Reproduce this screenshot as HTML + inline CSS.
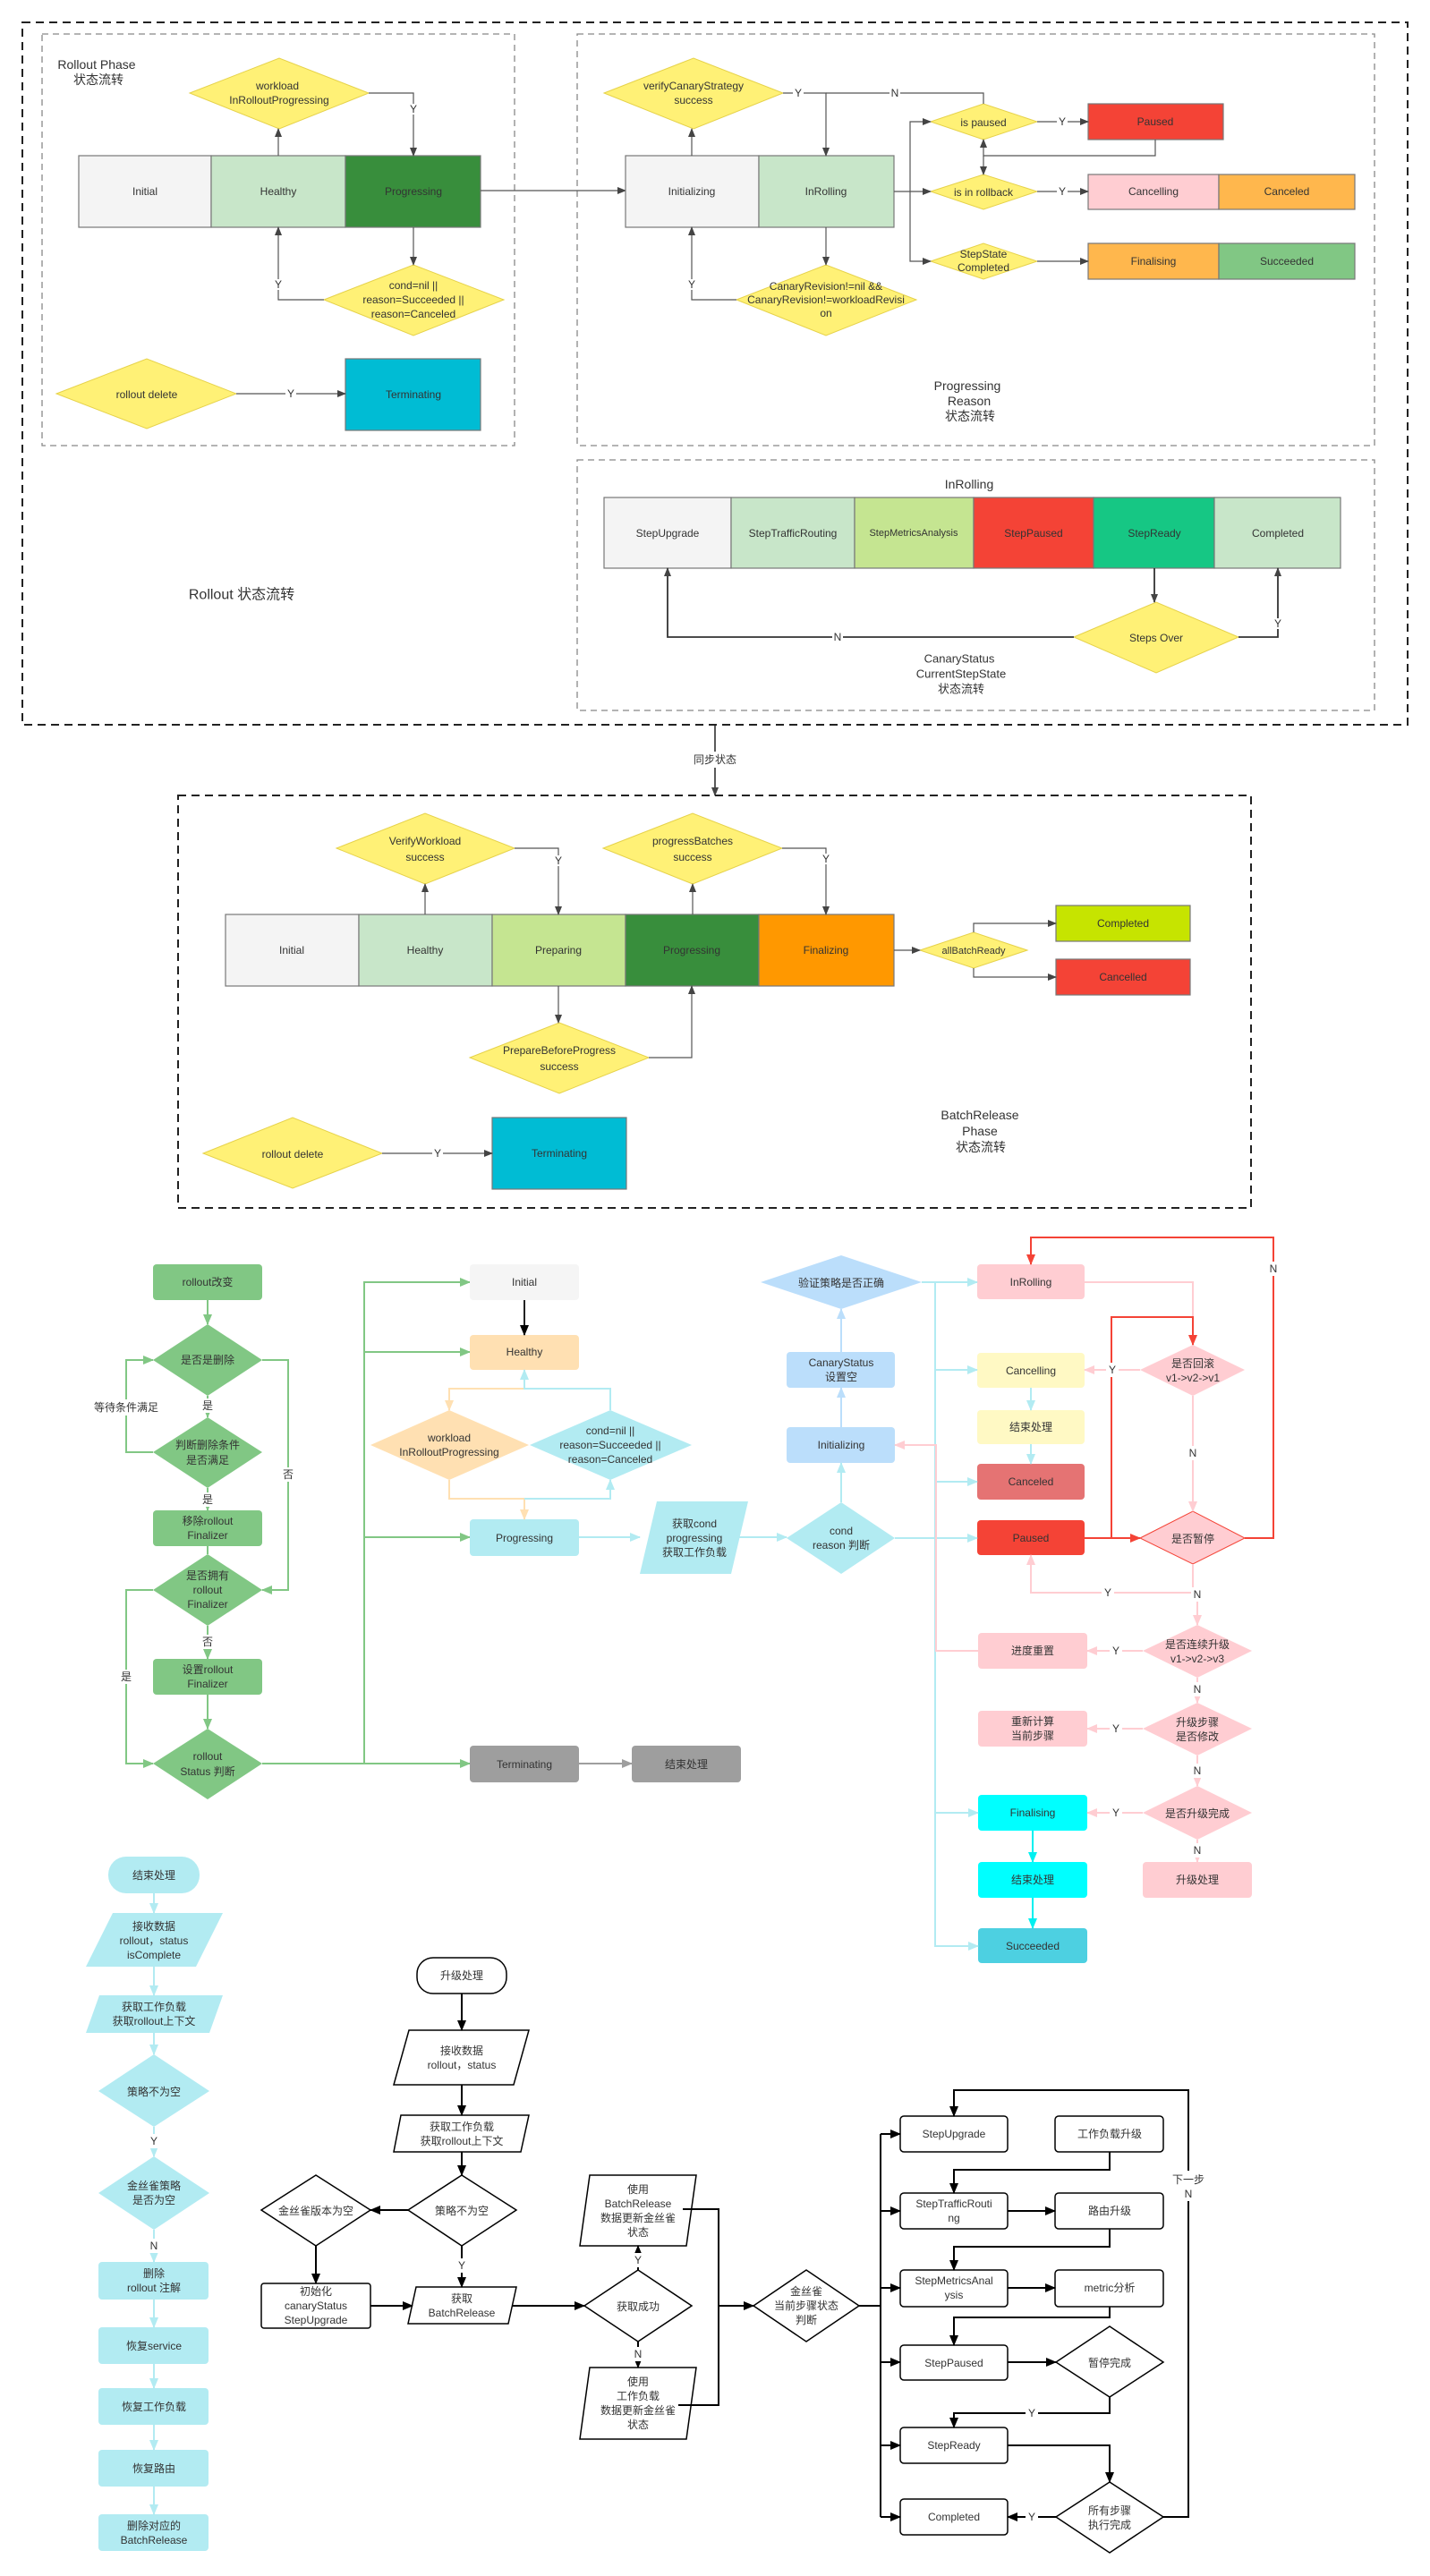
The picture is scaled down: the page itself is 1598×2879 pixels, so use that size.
<!DOCTYPE html>
<html><head><meta charset="utf-8"><style>
html,body{margin:0;padding:0;background:#fff;}
svg{display:block;font-family:"Liberation Sans","Noto Sans CJK SC",sans-serif;}
text{font-size:12px;fill:#333;text-anchor:middle;dominant-baseline:central;}
</style></head><body>
<svg width="1598" height="2879" viewBox="0 0 1598 2879" xmlns="http://www.w3.org/2000/svg">
<defs>
<marker id="ag" markerWidth="10" markerHeight="10" refX="9" refY="5" orient="auto" markerUnits="userSpaceOnUse"><path d="M0,1 L10,5 L0,9 z" fill="#444"/></marker>
<marker id="ak" markerWidth="12" markerHeight="12" refX="11" refY="6" orient="auto" markerUnits="userSpaceOnUse"><path d="M0,1 L12,6 L0,11 z" fill="#000"/></marker>
<marker id="agr" markerWidth="12" markerHeight="12" refX="11" refY="6" orient="auto" markerUnits="userSpaceOnUse"><path d="M0,1 L12,6 L0,11 z" fill="#81c784"/></marker>
<marker id="abl" markerWidth="12" markerHeight="12" refX="11" refY="6" orient="auto" markerUnits="userSpaceOnUse"><path d="M0,1 L12,6 L0,11 z" fill="#b2ebf2"/></marker>
<marker id="alb" markerWidth="12" markerHeight="12" refX="11" refY="6" orient="auto" markerUnits="userSpaceOnUse"><path d="M0,1 L12,6 L0,11 z" fill="#bbdefb"/></marker>
<marker id="apk" markerWidth="12" markerHeight="12" refX="11" refY="6" orient="auto" markerUnits="userSpaceOnUse"><path d="M0,1 L12,6 L0,11 z" fill="#ffcdd2"/></marker>
<marker id="ard" markerWidth="12" markerHeight="12" refX="11" refY="6" orient="auto" markerUnits="userSpaceOnUse"><path d="M0,1 L12,6 L0,11 z" fill="#f44336"/></marker>
<marker id="acy" markerWidth="12" markerHeight="12" refX="11" refY="6" orient="auto" markerUnits="userSpaceOnUse"><path d="M0,1 L12,6 L0,11 z" fill="#00f0f0"/></marker>
<marker id="aor" markerWidth="12" markerHeight="12" refX="11" refY="6" orient="auto" markerUnits="userSpaceOnUse"><path d="M0,1 L12,6 L0,11 z" fill="#ffe0b2"/></marker>
<marker id="agy" markerWidth="12" markerHeight="12" refX="11" refY="6" orient="auto" markerUnits="userSpaceOnUse"><path d="M0,1 L12,6 L0,11 z" fill="#9e9e9e"/></marker>
</defs>

<!-- ============ SECTION 1 ============ -->
<rect x="25" y="25" width="1548" height="785" fill="none" stroke="#222" stroke-width="2" stroke-dasharray="9,6"/>
<rect x="47" y="38" width="528" height="460" fill="none" stroke="#888" stroke-width="1.3" stroke-dasharray="7,5"/>
<rect x="645" y="38" width="891" height="460" fill="none" stroke="#888" stroke-width="1.3" stroke-dasharray="7,5"/>
<rect x="645" y="514" width="891" height="280" fill="none" stroke="#888" stroke-width="1.3" stroke-dasharray="7,5"/>

<text x="108" y="72" style="font-size:14px">Rollout Phase</text>
<text x="110" y="89" style="font-size:14px">状态流转</text>
<text x="270" y="665" style="font-size:16px">Rollout 状态流转</text>

<g stroke="#777" stroke-width="1.2">
<rect x="88" y="174" width="148" height="80" fill="#f4f4f4"/>
<rect x="236" y="174" width="150" height="80" fill="#c8e6c9"/>
<rect x="386" y="174" width="151" height="80" fill="#388e3c"/>
<rect x="386" y="401" width="151" height="80" fill="#00bcd4"/>
</g>
<text x="162" y="214">Initial</text><text x="311" y="214">Healthy</text><text x="462" y="214">Progressing</text><text x="462" y="441">Terminating</text>
<g fill="#fff176" stroke="#e6d24a" stroke-width="1">
<polygon points="212,104 312,65 412,104 312,144"/>
<polygon points="362,335 462,296 563,335 462,375"/>
<polygon points="63,440 164,401 264,440 164,479"/>
</g>
<text x="310" y="96">workload</text><text x="312" y="112">InRolloutProgressing</text>
<text x="462" y="319">cond=nil ||</text><text x="462" y="335">reason=Succeeded ||</text><text x="462" y="351">reason=Canceled</text>
<text x="164" y="441">rollout delete</text>
<g fill="none" stroke="#555" stroke-width="1.2">
<path d="M311,174 V144" marker-end="url(#ag)"/>
<path d="M412,104 H462 V174" marker-end="url(#ag)"/>
<path d="M462,254 V296" marker-end="url(#ag)"/>
<path d="M362,335 H311 V254" marker-end="url(#ag)"/>
<path d="M537,213 H699" marker-end="url(#ag)"/>
<path d="M264,440 H386" marker-end="url(#ag)"/>
</g>
<g style="font-size:11px"><rect x="456" y="116" width="12" height="12" fill="#fff"/><text x="462" y="122">Y</text>
<rect x="305" y="312" width="12" height="12" fill="#fff"/><text x="311" y="318">Y</text>
<rect x="319" y="434" width="12" height="12" fill="#fff"/><text x="325" y="440">Y</text></g>

<!-- Progressing Reason -->
<g stroke="#777" stroke-width="1.2">
<rect x="699" y="174" width="149" height="80" fill="#f4f4f4"/>
<rect x="848" y="174" width="151" height="80" fill="#c8e6c9"/>
<rect x="1216" y="116" width="151" height="40" fill="#f44336"/>
<rect x="1216" y="195" width="146" height="39" fill="#ffcdd2"/>
<rect x="1362" y="195" width="152" height="39" fill="#ffb74d"/>
<rect x="1216" y="272" width="146" height="40" fill="#ffb74d"/>
<rect x="1362" y="272" width="152" height="40" fill="#81c784"/>
</g>
<text x="773" y="214">Initializing</text><text x="923" y="214">InRolling</text>
<text x="1291" y="136">Paused</text><text x="1289" y="214">Cancelling</text><text x="1438" y="214">Canceled</text>
<text x="1289" y="292">Finalising</text><text x="1438" y="292">Succeeded</text>
<g fill="#fff176" stroke="#e6d24a" stroke-width="1">
<polygon points="675,104 775,65 875,104 775,144"/>
<polygon points="823,335 923,296 1024,335 923,375"/>
<polygon points="1040,136 1099,116 1159,136 1099,156"/>
<polygon points="1040,214 1099,195 1159,214 1099,234"/>
<polygon points="1040,292 1099,272 1159,292 1099,312"/>
</g>
<text x="775" y="96">verifyCanaryStrategy</text><text x="775" y="112">success</text>
<g style="font-size:11px"><text x="923" y="320">CanaryRevision!=nil &amp;&amp;</text><text x="923" y="335">CanaryRevision!=workloadRevisi</text><text x="923" y="350">on</text>
<text x="1099" y="284">StepState</text><text x="1099" y="299">Completed</text></g>
<text x="1099" y="137">is paused</text><text x="1099" y="215">is in rollback</text>
<g fill="none" stroke="#555" stroke-width="1.2">
<path d="M773,174 V144" marker-end="url(#ag)"/>
<path d="M875,104 H923 V174" marker-end="url(#ag)"/>
<path d="M923,104 H1099 V116"/>
<path d="M999,214 H1040" marker-end="url(#ag)"/>
<path d="M1017,214 V136 H1040" marker-end="url(#ag)"/>
<path d="M1017,214 V292 H1040" marker-end="url(#ag)"/>
<path d="M1159,136 H1216" marker-end="url(#ag)"/>
<path d="M1159,214 H1216" marker-end="url(#ag)"/>
<path d="M1159,292 H1216" marker-end="url(#ag)"/>
<path d="M1291,156 V174 H1099 V156" marker-end="url(#ag)"/>
<path d="M1099,174 V195" marker-end="url(#ag)"/>
<path d="M923,254 V296" marker-end="url(#ag)"/>
<path d="M823,335 H773 V254" marker-end="url(#ag)"/>
</g>
<g style="font-size:11px"><rect x="886" y="98" width="12" height="12" fill="#fff"/><text x="892" y="104">Y</text>
<rect x="994" y="98" width="12" height="12" fill="#fff"/><text x="1000" y="104">N</text>
<rect x="1181" y="130" width="12" height="12" fill="#fff"/><text x="1187" y="136">Y</text>
<rect x="1181" y="208" width="12" height="12" fill="#fff"/><text x="1187" y="214">Y</text>
<rect x="767" y="312" width="12" height="12" fill="#fff"/><text x="773" y="318">Y</text></g>
<text x="1081" y="431" style="font-size:14px">Progressing</text><text x="1083" y="448" style="font-size:14px">Reason</text><text x="1084" y="465" style="font-size:14px">状态流转</text>

<!-- InRolling steps -->
<text x="1083" y="541" style="font-size:14px">InRolling</text>
<g stroke="#777" stroke-width="1.2">
<rect x="675" y="556" width="142" height="79" fill="#f4f4f4"/>
<rect x="817" y="556" width="138" height="79" fill="#c8e6c9"/>
<rect x="955" y="556" width="133" height="79" fill="#c5e591"/>
<rect x="1088" y="556" width="134" height="79" fill="#f44336"/>
<rect x="1222" y="556" width="135" height="79" fill="#16c784"/>
<rect x="1357" y="556" width="141" height="79" fill="#c8e6c9"/>
</g>
<text x="746" y="596">StepUpgrade</text><text x="886" y="596">StepTrafficRouting</text><text x="1021" y="596" style="font-size:11px">StepMetricsAnalysis</text>
<text x="1155" y="596">StepPaused</text><text x="1290" y="596">StepReady</text><text x="1428" y="596">Completed</text>
<polygon points="1200,712 1292,673 1384,712 1292,752" fill="#fff176" stroke="#e6d24a"/>
<text x="1292" y="713">Steps Over</text>
<g fill="none" stroke="#333" stroke-width="1.8">
<path d="M1290,635 V673" marker-end="url(#ag)"/>
<path d="M1200,712 H746 V635" marker-end="url(#ag)"/>
<path d="M1384,712 H1428 V635" marker-end="url(#ag)"/>
</g>
<g style="font-size:11px"><rect x="930" y="706" width="12" height="12" fill="#fff"/><text x="936" y="712">N</text>
<rect x="1422" y="691" width="12" height="12" fill="#fff"/><text x="1428" y="697">Y</text></g>
<text x="1072" y="736" style="font-size:13px">CanaryStatus</text><text x="1074" y="753" style="font-size:13px">CurrentStepState</text><text x="1074" y="770" style="font-size:13px">状态流转</text>

<!-- sync -->
<path d="M799,810 V889" stroke="#222" stroke-width="1.5" fill="none" marker-end="url(#ag)"/>
<rect x="770" y="840" width="58" height="18" fill="#fff"/><text x="799" y="849">同步状态</text>

<!-- ============ SECTION 2 BatchRelease ============ -->
<rect x="199" y="889" width="1199" height="461" fill="none" stroke="#222" stroke-width="2" stroke-dasharray="9,6"/>
<g stroke="#777" stroke-width="1.2">
<rect x="252" y="1022" width="149" height="80" fill="#f4f4f4"/>
<rect x="401" y="1022" width="149" height="80" fill="#c8e6c9"/>
<rect x="550" y="1022" width="149" height="80" fill="#c5e591"/>
<rect x="699" y="1022" width="149" height="80" fill="#388e3c"/>
<rect x="848" y="1022" width="151" height="80" fill="#ff9800"/>
<rect x="1180" y="1012" width="150" height="40" fill="#c6e400"/>
<rect x="1180" y="1072" width="150" height="40" fill="#f44336"/>
<rect x="550" y="1249" width="150" height="80" fill="#00bcd4"/>
</g>
<text x="326" y="1062">Initial</text><text x="475" y="1062">Healthy</text><text x="624" y="1062">Preparing</text><text x="773" y="1062">Progressing</text><text x="923" y="1062">Finalizing</text>
<text x="1255" y="1032">Completed</text><text x="1255" y="1092">Cancelled</text><text x="625" y="1289">Terminating</text>
<g fill="#fff176" stroke="#e6d24a" stroke-width="1">
<polygon points="376,948 475,909 575,948 475,988"/>
<polygon points="674,948 774,909 874,948 774,988"/>
<polygon points="525,1182 625,1143 725,1182 625,1222"/>
<polygon points="1028,1062 1088,1042 1148,1062 1088,1082"/>
<polygon points="227,1289 327,1249 427,1289 327,1328"/>
</g>
<text x="475" y="940">VerifyWorkload</text><text x="475" y="958">success</text>
<text x="774" y="940">progressBatches</text><text x="774" y="958">success</text>
<text x="625" y="1174">PrepareBeforeProgress</text><text x="625" y="1192">success</text>
<text x="1088" y="1063" style="font-size:11px">allBatchReady</text>
<text x="327" y="1290">rollout delete</text>
<g fill="none" stroke="#555" stroke-width="1.2">
<path d="M475,1022 V988" marker-end="url(#ag)"/>
<path d="M575,948 H624 V1022" marker-end="url(#ag)"/>
<path d="M774,1022 V988" marker-end="url(#ag)"/>
<path d="M874,948 H923 V1022" marker-end="url(#ag)"/>
<path d="M624,1102 V1143" marker-end="url(#ag)"/>
<path d="M725,1182 H773 V1102" marker-end="url(#ag)"/>
<path d="M999,1062 H1028" marker-end="url(#ag)"/>
<path d="M1088,1042 V1032 H1180" marker-end="url(#ag)"/>
<path d="M1088,1082 V1092 H1180" marker-end="url(#ag)"/>
<path d="M427,1289 H550" marker-end="url(#ag)"/>
</g>
<g style="font-size:11px"><rect x="618" y="956" width="12" height="12" fill="#fff"/><text x="624" y="962">Y</text>
<rect x="917" y="954" width="12" height="12" fill="#fff"/><text x="923" y="960">Y</text>
<rect x="483" y="1283" width="12" height="12" fill="#fff"/><text x="489" y="1289">Y</text></g>
<text x="1095" y="1246" style="font-size:14px">BatchRelease</text><text x="1095" y="1264" style="font-size:14px">Phase</text><text x="1096" y="1282" style="font-size:14px">状态流转</text>

<!-- ============ SECTION 3 flow ============ -->
<g style="font-size:13px">
<!-- green flow -->
<g fill="#81c784">
<rect x="171" y="1413" width="122" height="40" rx="4"/>
<polygon points="171,1520 232,1480 293,1520 232,1560"/>
<polygon points="171,1623 232,1584 293,1623 232,1663"/>
<rect x="171" y="1688" width="122" height="40" rx="4"/>
<polygon points="171,1777 232,1737 293,1777 232,1817"/>
<rect x="171" y="1854" width="122" height="40" rx="4"/>
<polygon points="171,1971 232,1932 293,1971 232,2011"/>
</g>
<text x="232" y="1433">rollout改变</text>
<text x="232" y="1520">是否是删除</text>
<text x="232" y="1615">判断删除条件</text><text x="232" y="1632">是否满足</text>
<text x="232" y="1700">移除rollout</text><text x="232" y="1716">Finalizer</text>
<text x="232" y="1761">是否拥有</text><text x="232" y="1777">rollout</text><text x="232" y="1793">Finalizer</text>
<text x="232" y="1866">设置rollout</text><text x="232" y="1882">Finalizer</text>
<text x="232" y="1963">rollout</text><text x="232" y="1980">Status 判断</text>
<g fill="none" stroke="#81c784" stroke-width="2">
<path d="M232,1453 V1480" marker-end="url(#agr)"/>
<path d="M232,1560 V1584" marker-end="url(#agr)"/>
<path d="M171,1623 H141 V1520 H171" marker-end="url(#agr)"/>
<path d="M293,1520 H322 V1777 H293" marker-end="url(#agr)"/>
<path d="M232,1663 V1688" marker-end="url(#agr)"/>
<path d="M232,1728 V1737"/>
<path d="M232,1817 V1854" marker-end="url(#agr)"/>
<path d="M171,1777 H141 V1971 H171" marker-end="url(#agr)"/>
<path d="M232,1894 V1932" marker-end="url(#agr)"/>
<path d="M293,1971 H525" marker-end="url(#agr)"/>
<path d="M407,1971 V1433 H525" marker-end="url(#agr)"/>
<path d="M407,1511 H525" marker-end="url(#agr)"/>
<path d="M407,1718 H525" marker-end="url(#agr)"/>
</g>
<rect x="224" y="1563" width="16" height="16" fill="#fff"/><text x="232" y="1571">是</text>
<rect x="224" y="1668" width="16" height="16" fill="#fff"/><text x="232" y="1676">是</text>
<rect x="224" y="1827" width="16" height="16" fill="#fff"/><text x="232" y="1835">否</text>
<rect x="100" y="1564" width="82" height="18" fill="#fff"/><text x="141" y="1573">等待条件满足</text>
<rect x="314" y="1640" width="16" height="16" fill="#fff"/><text x="322" y="1648">否</text>
<rect x="133" y="1866" width="16" height="16" fill="#fff"/><text x="141" y="1874">是</text>

<!-- middle states -->
<rect x="525" y="1413" width="122" height="40" rx="4" fill="#f5f5f5"/><text x="586" y="1433">Initial</text>
<rect x="525" y="1492" width="122" height="39" rx="4" fill="#ffe0b2"/><text x="586" y="1511">Healthy</text>
<polygon points="414,1615 502,1576 591,1615 502,1654" fill="#ffe0b2"/>
<polygon points="592,1615 682,1576 773,1615 682,1654" fill="#b2ebf2"/>
<text x="502" y="1607">workload</text><text x="502" y="1623" style="font-size:12px">InRolloutProgressing</text>
<text x="682" y="1599" style="font-size:12px">cond=nil ||</text><text x="682" y="1615" style="font-size:12px">reason=Succeeded ||</text><text x="682" y="1631" style="font-size:12px">reason=Canceled</text>
<rect x="525" y="1698" width="122" height="41" rx="4" fill="#b2ebf2"/><text x="586" y="1719">Progressing</text>
<polygon points="734,1678 836,1678 817,1759 715,1759" fill="#b2ebf2"/>
<text x="776" y="1703">获取cond</text><text x="776" y="1719">progressing</text><text x="776" y="1735">获取工作负载</text>
<rect x="525" y="1951" width="122" height="41" rx="4" fill="#9e9e9e"/><text x="586" y="1972">Terminating</text>
<rect x="706" y="1951" width="122" height="41" rx="4" fill="#9e9e9e"/><text x="767" y="1972">结束处理</text>
<g fill="none" stroke-width="2">
<path d="M586,1453 V1492" stroke="#222" marker-end="url(#ak)"/>
<path d="M586,1552 H502 V1576" stroke="#ffe0b2" marker-end="url(#aor)"/>
<path d="M682,1576 V1552 H586 V1531" stroke="#b2ebf2" marker-end="url(#abl)"/>
<path d="M502,1654 V1675 H586 V1698" stroke="#ffe0b2" marker-end="url(#aor)"/>
<path d="M586,1675 H682 V1654" stroke="#b2ebf2" marker-end="url(#abl)"/>
<path d="M647,1718 H715" stroke="#b2ebf2" marker-end="url(#abl)"/>
<path d="M826,1718 H879" stroke="#b2ebf2" marker-end="url(#abl)"/>
<path d="M647,1971 H706" stroke="#9e9e9e" marker-end="url(#agy)"/>
</g>

<!-- right side -->
<polygon points="850,1433 940,1403 1030,1433 940,1463" fill="#bbdefb"/><text x="940" y="1434">验证策略是否正确</text>
<rect x="879" y="1511" width="121" height="40" rx="4" fill="#bbdefb"/><text x="940" y="1523">CanaryStatus</text><text x="940" y="1539">设置空</text>
<rect x="879" y="1595" width="121" height="40" rx="4" fill="#bbdefb"/><text x="940" y="1615">Initializing</text>
<polygon points="879,1719 940,1679 1000,1719 940,1759" fill="#b2ebf2"/><text x="940" y="1711">cond</text><text x="940" y="1727">reason 判断</text>
<rect x="1092" y="1413" width="120" height="39" rx="4" fill="#ffcdd2"/><text x="1152" y="1433">InRolling</text>
<rect x="1092" y="1512" width="120" height="39" rx="4" fill="#fff9c4"/><text x="1152" y="1532">Cancelling</text>
<rect x="1092" y="1576" width="120" height="38" rx="4" fill="#fff9c4"/><text x="1152" y="1595">结束处理</text>
<rect x="1092" y="1636" width="120" height="40" rx="4" fill="#e57373"/><text x="1152" y="1656">Canceled</text>
<rect x="1092" y="1699" width="120" height="39" rx="4" fill="#f44336"/><text x="1152" y="1719">Paused</text>
<polygon points="1274,1531 1333,1503 1391,1531 1333,1560" fill="#ffcdd2"/><text x="1333" y="1524">是否回滚</text><text x="1333" y="1540">v1->v2->v1</text>
<polygon points="1274,1719 1333,1689 1391,1719 1333,1748" fill="#ffcdd2" stroke="#f44336" stroke-width="1"/><text x="1333" y="1720">是否暂停</text>
<polygon points="1277,1845 1338,1816 1399,1845 1338,1875" fill="#ffcdd2"/><text x="1338" y="1838">是否连续升级</text><text x="1338" y="1854">v1->v2->v3</text>
<polygon points="1277,1932 1338,1903 1399,1932 1338,1962" fill="#ffcdd2"/><text x="1338" y="1925">升级步骤</text><text x="1338" y="1941">是否修改</text>
<polygon points="1277,2026 1338,1996 1399,2026 1338,2056" fill="#ffcdd2"/><text x="1338" y="2027">是否升级完成</text>
<rect x="1093" y="1825" width="122" height="40" rx="4" fill="#ffcdd2"/><text x="1154" y="1845">进度重置</text>
<rect x="1093" y="1912" width="122" height="40" rx="4" fill="#ffcdd2"/><text x="1154" y="1924">重新计算</text><text x="1154" y="1940">当前步骤</text>
<rect x="1093" y="2006" width="122" height="40" rx="4" fill="#00ffff"/><text x="1154" y="2026">Finalising</text>
<rect x="1093" y="2081" width="122" height="40" rx="4" fill="#00ffff"/><text x="1154" y="2101">结束处理</text>
<rect x="1093" y="2155" width="122" height="39" rx="4" fill="#4dd0e1"/><text x="1154" y="2175">Succeeded</text>
<rect x="1277" y="2081" width="122" height="40" rx="4" fill="#ffcdd2"/><text x="1338" y="2101">升级处理</text>
<g fill="none" stroke-width="2">
<path d="M940,1679 V1635" stroke="#b2ebf2" marker-end="url(#abl)"/>
<path d="M940,1595 V1551" stroke="#bbdefb" marker-end="url(#alb)"/>
<path d="M940,1511 V1463" stroke="#bbdefb" marker-end="url(#alb)"/>
<path d="M1030,1433 H1092" stroke="#b2ebf2" marker-end="url(#abl)"/>
<path d="M1045,1433 V2175 H1093" stroke="#b2ebf2" marker-end="url(#abl)"/>
<path d="M1045,1531 H1092" stroke="#b2ebf2" marker-end="url(#abl)"/>
<path d="M1045,1656 H1092" stroke="#b2ebf2" marker-end="url(#abl)"/>
<path d="M1000,1719 H1092" stroke="#b2ebf2" marker-end="url(#abl)"/>
<path d="M1045,2026 H1093" stroke="#b2ebf2" marker-end="url(#abl)"/>
<path d="M1152,1551 V1576" stroke="#b2ebf2" marker-end="url(#abl)"/>
<path d="M1152,1614 V1636" stroke="#b2ebf2" marker-end="url(#abl)"/>
<path d="M1093,1845 H1046 V1615 H1000" stroke="#ffcdd2" marker-end="url(#apk)"/>
<path d="M1212,1433 H1333 V1472" stroke="#ffcdd2"/>
<path d="M1274,1531 H1212" stroke="#ffcdd2" marker-end="url(#apk)"/>
<path d="M1333,1560 V1689" stroke="#ffcdd2" marker-end="url(#apk)"/>
<path d="M1333,1748 V1780 H1152 V1738" stroke="#ffcdd2" marker-end="url(#apk)"/>
<path d="M1338,1780 V1816" stroke="#ffcdd2" marker-end="url(#apk)"/>
<path d="M1277,1845 H1215" stroke="#ffcdd2" marker-end="url(#apk)"/>
<path d="M1338,1875 V1903" stroke="#ffcdd2" marker-end="url(#apk)"/>
<path d="M1277,1932 H1215" stroke="#ffcdd2" marker-end="url(#apk)"/>
<path d="M1338,1962 V1996" stroke="#ffcdd2" marker-end="url(#apk)"/>
<path d="M1277,2026 H1215" stroke="#ffcdd2" marker-end="url(#apk)"/>
<path d="M1338,2056 V2081" stroke="#ffcdd2" marker-end="url(#apk)"/>
<path d="M1154,2046 V2081" stroke="#00f0f0" marker-end="url(#acy)"/>
<path d="M1154,2121 V2155" stroke="#00f0f0" marker-end="url(#acy)"/>
<path d="M1212,1719 H1274" stroke="#f44336" marker-end="url(#ard)"/>
<path d="M1242,1719 V1472 H1333 V1503" stroke="#f44336" marker-end="url(#ard)"/>
<path d="M1391,1719 H1423 V1383 H1152 V1413" stroke="#f44336" marker-end="url(#ard)"/>
</g>
<rect x="1236" y="1523" width="14" height="16" fill="#fff"/><text x="1243" y="1531">Y</text>
<rect x="1326" y="1616" width="14" height="16" fill="#fff"/><text x="1333" y="1624">N</text>
<rect x="1416" y="1410" width="14" height="16" fill="#fff"/><text x="1423" y="1418">N</text>
<rect x="1231" y="1772" width="14" height="16" fill="#fff"/><text x="1238" y="1780">Y</text>
<rect x="1331" y="1774" width="14" height="16" fill="#fff"/><text x="1338" y="1782">N</text>
<rect x="1240" y="1837" width="14" height="16" fill="#fff"/><text x="1247" y="1845">Y</text>
<rect x="1240" y="1924" width="14" height="16" fill="#fff"/><text x="1247" y="1932">Y</text>
<rect x="1240" y="2018" width="14" height="16" fill="#fff"/><text x="1247" y="2026">Y</text>
<rect x="1331" y="1880" width="14" height="16" fill="#fff"/><text x="1338" y="1888">N</text>
<rect x="1331" y="1971" width="14" height="16" fill="#fff"/><text x="1338" y="1979">N</text>
<rect x="1331" y="2060" width="14" height="16" fill="#fff"/><text x="1338" y="2068">N</text>
</g>

<!-- ============ SECTION 4: 结束处理 flow ============ -->
<g style="font-size:12px">
<g fill="#b2ebf2">
<rect x="121" y="2075" width="102" height="41" rx="20"/>
<polygon points="126,2138 249,2138 219,2198 96,2198"/>
<polygon points="111,2230 249,2230 234,2272 96,2272"/>
<polygon points="110,2337 172,2296 234,2337 172,2377"/>
<polygon points="110,2451 172,2410 234,2451 172,2492"/>
<rect x="110" y="2528" width="123" height="42" rx="4"/>
<rect x="110" y="2601" width="123" height="41" rx="4"/>
<rect x="110" y="2669" width="123" height="41" rx="4"/>
<rect x="110" y="2738" width="123" height="41" rx="4"/>
<rect x="110" y="2810" width="123" height="41" rx="4"/>
</g>
<text x="172" y="2096">结束处理</text>
<text x="172" y="2153">接收数据</text><text x="172" y="2169">rollout，status</text><text x="172" y="2185">isComplete</text>
<text x="172" y="2243">获取工作负载</text><text x="172" y="2259">获取rollout上下文</text>
<text x="172" y="2338">策略不为空</text>
<text x="172" y="2443">金丝雀策略</text><text x="172" y="2459">是否为空</text>
<text x="172" y="2541">删除</text><text x="172" y="2557">rollout 注解</text>
<text x="172" y="2622">恢复service</text>
<text x="172" y="2690">恢复工作负载</text>
<text x="172" y="2759">恢复路由</text>
<text x="172" y="2823">删除对应的</text><text x="172" y="2839">BatchRelease</text>
<g fill="none" stroke="#b2ebf2" stroke-width="2">
<path d="M172,2116 V2138" marker-end="url(#abl)"/>
<path d="M172,2198 V2230" marker-end="url(#abl)"/>
<path d="M172,2272 V2296" marker-end="url(#abl)"/>
<path d="M172,2377 V2410" marker-end="url(#abl)"/>
<path d="M172,2492 V2528" marker-end="url(#abl)"/>
<path d="M172,2570 V2601" marker-end="url(#abl)"/>
<path d="M172,2642 V2669" marker-end="url(#abl)"/>
<path d="M172,2710 V2738" marker-end="url(#abl)"/>
<path d="M172,2779 V2810" marker-end="url(#abl)"/>
</g>
<rect x="165" y="2385" width="14" height="16" fill="#fff"/><text x="172" y="2393">Y</text>
<rect x="165" y="2502" width="14" height="16" fill="#fff"/><text x="172" y="2510">N</text>

<!-- ============ SECTION 5: 升级处理 flow ============ -->
<g fill="#fff" stroke="#000" stroke-width="1.5">
<rect x="466" y="2188" width="100" height="40" rx="18"/>
<polygon points="457,2269 591,2269 574,2330 440,2330"/>
<polygon points="448,2364 591,2364 582,2405 440,2405"/>
<polygon points="456,2470 516,2431 577,2470 516,2510"/>
<polygon points="292,2470 353,2431 414,2470 353,2510"/>
<rect x="292" y="2552" width="122" height="50" rx="3"/>
<polygon points="465,2556 577,2556 568,2597 456,2597"/>
<polygon points="653,2577 713,2537 773,2577 713,2617"/>
<polygon points="659,2431 778,2431 767,2510 648,2510"/>
<polygon points="659,2646 778,2646 767,2726 648,2726"/>
<polygon points="842,2577 901,2537 960,2577 901,2617"/>
<rect x="1006" y="2365" width="120" height="40" rx="4"/>
<rect x="1179" y="2365" width="121" height="40" rx="4"/>
<rect x="1006" y="2451" width="120" height="40" rx="4"/>
<rect x="1179" y="2451" width="121" height="40" rx="4"/>
<rect x="1006" y="2537" width="120" height="41" rx="4"/>
<rect x="1179" y="2537" width="121" height="41" rx="4"/>
<rect x="1006" y="2621" width="120" height="39" rx="4"/>
<polygon points="1180,2640 1240,2600 1300,2640 1240,2679"/>
<rect x="1006" y="2713" width="120" height="40" rx="4"/>
<rect x="1006" y="2793" width="120" height="40" rx="4"/>
<polygon points="1180,2813 1240,2774 1300,2813 1240,2853"/>
</g>
<text x="516" y="2208">升级处理</text>
<text x="516" y="2292">接收数据</text><text x="516" y="2308">rollout，status</text>
<text x="516" y="2377">获取工作负载</text><text x="516" y="2393">获取rollout上下文</text>
<text x="516" y="2471">策略不为空</text>
<text x="353" y="2471">金丝雀版本为空</text>
<text x="353" y="2561">初始化</text><text x="353" y="2577">canaryStatus</text><text x="353" y="2593">StepUpgrade</text>
<text x="516" y="2569">获取</text><text x="516" y="2585">BatchRelease</text>
<text x="713" y="2578">获取成功</text>
<text x="713" y="2447">使用</text><text x="713" y="2463">BatchRelease</text><text x="713" y="2479">数据更新金丝雀</text><text x="713" y="2495">状态</text>
<text x="713" y="2662">使用</text><text x="713" y="2678">工作负载</text><text x="713" y="2694">数据更新金丝雀</text><text x="713" y="2710">状态</text>
<text x="901" y="2561">金丝雀</text><text x="901" y="2577">当前步骤状态</text><text x="901" y="2593">判断</text>
<text x="1066" y="2385">StepUpgrade</text><text x="1240" y="2385">工作负载升级</text>
<text x="1066" y="2463">StepTrafficRouti</text><text x="1066" y="2479">ng</text><text x="1240" y="2471">路由升级</text>
<text x="1066" y="2549">StepMetricsAnal</text><text x="1066" y="2565">ysis</text><text x="1240" y="2557">metric分析</text>
<text x="1066" y="2641">StepPaused</text><text x="1240" y="2641">暂停完成</text>
<text x="1066" y="2733">StepReady</text>
<text x="1066" y="2813">Completed</text><text x="1240" y="2806">所有步骤</text><text x="1240" y="2822">执行完成</text>
<g fill="none" stroke="#000" stroke-width="2">
<path d="M516,2228 V2269" marker-end="url(#ak)"/>
<path d="M516,2330 V2364" marker-end="url(#ak)"/>
<path d="M516,2405 V2431" marker-end="url(#ak)"/>
<path d="M456,2470 H414" marker-end="url(#ak)"/>
<path d="M353,2510 V2552" marker-end="url(#ak)"/>
<path d="M516,2510 V2556" marker-end="url(#ak)"/>
<path d="M414,2577 H461" marker-end="url(#ak)"/>
<path d="M572,2577 H653" marker-end="url(#ak)"/>
<path d="M713,2537 V2510" marker-end="url(#ak)"/>
<path d="M713,2617 V2646" marker-end="url(#ak)"/>
<path d="M763,2469 H803 V2688 H758"/>
<path d="M803,2577 H842" marker-end="url(#ak)"/>
<path d="M960,2577 H984"/>
<path d="M984,2385 V2813"/>
<path d="M984,2385 H1006" marker-end="url(#ak)"/>
<path d="M984,2471 H1006" marker-end="url(#ak)"/>
<path d="M984,2557 H1006" marker-end="url(#ak)"/>
<path d="M984,2640 H1006" marker-end="url(#ak)"/>
<path d="M984,2733 H1006" marker-end="url(#ak)"/>
<path d="M984,2813 H1006" marker-end="url(#ak)"/>
<path d="M1240,2405 V2425 H1066 V2451" marker-end="url(#ak)"/>
<path d="M1126,2471 H1179" marker-end="url(#ak)"/>
<path d="M1240,2491 V2511 H1066 V2537" marker-end="url(#ak)"/>
<path d="M1126,2557 H1179" marker-end="url(#ak)"/>
<path d="M1240,2578 V2590 H1066 V2621" marker-end="url(#ak)"/>
<path d="M1126,2640 H1180" marker-end="url(#ak)"/>
<path d="M1240,2679 V2697 H1066 V2713" marker-end="url(#ak)"/>
<path d="M1126,2733 H1240 V2774" marker-end="url(#ak)"/>
<path d="M1180,2813 H1126" marker-end="url(#ak)"/>
<path d="M1300,2813 H1328 V2336 H1066 V2365" marker-end="url(#ak)"/>
</g>
<rect x="509" y="2524" width="14" height="16" fill="#fff"/><text x="516" y="2532">Y</text>
<rect x="706" y="2518" width="14" height="16" fill="#fff"/><text x="713" y="2526">Y</text>
<rect x="706" y="2623" width="14" height="16" fill="#fff"/><text x="713" y="2631">N</text>
<rect x="1146" y="2689" width="14" height="16" fill="#fff"/><text x="1153" y="2697">Y</text>
<rect x="1146" y="2805" width="14" height="16" fill="#fff"/><text x="1153" y="2813">Y</text>
<rect x="1312" y="2426" width="32" height="34" fill="#fff"/><text x="1328" y="2436">下一步</text><text x="1328" y="2452">N</text>
</g>
</svg>
</body></html>
